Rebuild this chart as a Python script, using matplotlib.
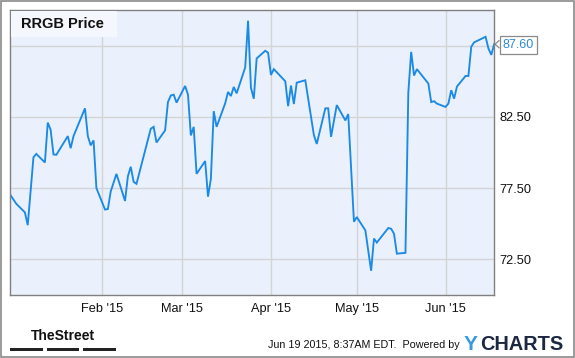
import matplotlib
matplotlib.use("Agg")
import matplotlib.pyplot as plt
import matplotlib.dates as mdates
import matplotlib.transforms as mtransforms
import pandas as pd
from matplotlib.patches import Rectangle

# price vertices
dates = [
    "2014-12-31", "2015-01-02", "2015-01-05", "2015-01-06", "2015-01-08", "2015-01-09",
    "2015-01-12", "2015-01-13", "2015-01-14", "2015-01-15", "2015-01-16", "2015-01-20",
    "2015-01-21", "2015-01-22", "2015-01-26", "2015-01-27", "2015-01-28", "2015-01-29",
    "2015-01-30", "2015-02-02", "2015-02-03", "2015-02-04", "2015-02-06", "2015-02-09",
    "2015-02-10", "2015-02-11", "2015-02-12", "2015-02-13", "2015-02-18", "2015-02-19",
    "2015-02-20", "2015-02-23", "2015-02-24", "2015-02-25", "2015-02-26", "2015-02-27",
    "2015-03-02", "2015-03-03", "2015-03-04", "2015-03-05", "2015-03-06", "2015-03-09",
    "2015-03-10", "2015-03-11", "2015-03-12", "2015-03-13", "2015-03-16", "2015-03-17",
    "2015-03-18", "2015-03-19", "2015-03-20", "2015-03-23", "2015-03-24", "2015-03-25",
    "2015-03-26", "2015-03-27", "2015-03-30", "2015-03-31", "2015-04-01", "2015-04-02",
    "2015-04-06", "2015-04-07", "2015-04-08", "2015-04-09", "2015-04-10", "2015-04-13",
    "2015-04-16", "2015-04-17", "2015-04-20", "2015-04-21", "2015-04-22", "2015-04-24",
    "2015-04-27", "2015-04-28", "2015-04-30", "2015-05-01", "2015-05-04", "2015-05-06",
    "2015-05-07", "2015-05-08", "2015-05-12", "2015-05-13", "2015-05-14", "2015-05-15",
    "2015-05-18", "2015-05-19", "2015-05-20", "2015-05-21", "2015-05-22", "2015-05-26",
    "2015-05-27", "2015-05-28", "2015-05-29", "2015-06-01", "2015-06-02", "2015-06-03",
    "2015-06-04", "2015-06-05", "2015-06-08", "2015-06-09", "2015-06-10", "2015-06-11",
    "2015-06-15", "2015-06-16", "2015-06-17", "2015-06-18",
]
prices = [
    77.0, 76.4, 75.8, 74.9, 79.67, 79.9,
    79.3, 82.1, 81.6, 79.86, 79.84, 81.15,
    80.3, 81.15, 83.1, 81.15, 80.5, 80.85,
    77.5, 76.0, 76.03, 77.27, 78.5, 76.6,
    78.33, 79.0, 77.94, 77.8, 81.67, 81.8,
    80.7, 81.55, 83.54, 84.0, 84.06, 83.5,
    84.67, 84.06, 81.2, 81.8, 78.5, 79.4,
    76.9, 78.15, 82.9, 81.8, 83.45, 84.25,
    83.96, 84.6, 84.15, 85.97, 89.25, 84.55,
    83.77, 86.6, 87.14, 87.0, 85.44, 85.85,
    85.0, 83.25, 84.7, 83.4, 84.9, 85.07,
    81.22, 80.6, 83.1, 83.1, 81.1, 83.33,
    82.25, 82.7, 75.14, 75.47, 74.53, 71.7,
    73.96, 73.68, 74.7, 74.65, 74.3, 72.9,
    72.96, 84.2, 87.06, 85.4, 85.85, 84.84,
    83.54, 83.6, 83.43, 83.2, 83.43, 84.37,
    83.78, 84.63, 85.37, 85.37, 87.42, 87.73,
    88.12, 87.3, 86.85, 87.6,
]
month_ticks = ["2015-02-01", "2015-03-01", "2015-04-01", "2015-05-01", "2015-06-01"]
month_labels = ["Feb '15", "Mar '15", "Apr '15", "May '15", "Jun '15"]
price_ticks = [72.5, 77.5, 82.5, 87.5]
last_price = 87.60

plt.rcParams["font.family"] = ["Liberation Sans", "DejaVu Sans"]

W, H = 575, 358
x = pd.to_datetime(dates)
fig = plt.figure(figsize=(W / 100, H / 100), dpi=100)
ax = fig.add_axes([10 / W, 1 - 295 / H, 484.3 / W, 285 / H])
ax.set_facecolor("#eaf1fc")

ax.plot(x, prices, color="#1a8ae6", linewidth=1.35, solid_joinstyle="miter")

ax.set_ylim(70, 90)
ax.set_xlim(mdates.date2num(pd.Timestamp("2014-12-31")) - 0.2,
            mdates.date2num(pd.Timestamp("2015-06-18")) + 0.05)
ax.set_xticks(pd.to_datetime(month_ticks))
ax.set_xticklabels(month_labels)
ax.set_yticks(price_ticks)
ax.set_yticklabels([f"{v:.2f}" if v < 85 else "" for v in price_ticks])
ax.yaxis.tick_right()
ax.tick_params(length=0, labelsize=9.2, colors="#111111", pad=3.5)
ax.tick_params(axis="x", pad=6)
ax.grid(True, color="#d4d4d4", linewidth=1.0)
ax.set_axisbelow(True)
for side in ("left", "bottom", "right", "top"):
    ax.spines[side].set_color("#808080")
    ax.spines[side].set_linewidth(1.0)

# title box
fig.add_artist(Rectangle((10.5 / W, 1 - 37 / H), 106.5 / W, 26.5 / H, transform=fig.transFigure,
                         fc="#f4f7fd", ec="none", zorder=3))
fig.text(21 / W, 1 - 24 / H, "RRGB Price", ha="left", va="center", fontsize=10.5,
         fontweight="bold", color="#111111", zorder=4)

# last value marker
fig.text(502.5 / W, 1 - 45 / H, f"{last_price:.2f}", ha="left", va="center",
         fontsize=9.0, color="#2b8ad6",
         bbox=dict(boxstyle="square,pad=0.22", fc="white", ec="#8a8a8a", lw=0.9))
tr = mtransforms.blended_transform_factory(fig.transFigure, ax.transData)
ax.plot([499 / W, 495 / W, 499 / W], [last_price + 0.25, last_price, last_price - 0.25],
        transform=tr, color="#8a8a8a", lw=0.9, clip_on=False)

# footer
fig.add_artist(Rectangle((0.001, 0.002), 0.997, 0.995, transform=fig.transFigure,
                         fill=False, ec="#8a8a8a", lw=1.2))
fig.text(63 / W, 1 - 336 / H, "TheStreet", ha="center", va="center",
         fontsize=10, fontweight="bold", color="#111111")
for x0, x1 in [(10, 43), (47, 79), (83, 116)]:
    fig.add_artist(Rectangle((x0 / W, 1 - 351 / H), (x1 - x0) / W, 3 / H,
                             transform=fig.transFigure, fc="#222222", ec="none"))
fig.text(460 / W, 1 - 345 / H, "Jun 19 2015, 8:37AM EDT.  Powered by",
         ha="right", va="center", fontsize=7.75, color="#111111")
fig.text(464 / W, 1 - 344 / H, "Y", ha="left", va="center", fontsize=15,
         fontweight="bold", color="#3a9ae0")
fig.text(480 / W, 1 - 344 / H, "CHARTS", ha="left", va="center", fontsize=14.3,
         fontweight="bold", color="#1c2742")

fig.savefig("out.png", dpi=100)
